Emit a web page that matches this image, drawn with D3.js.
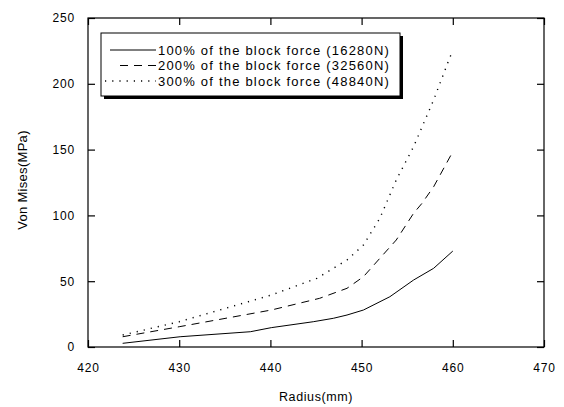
<!DOCTYPE html>
<html>
<head>
<meta charset="utf-8">
<script src="https://cdn.jsdelivr.net/npm/d3@7"></script>
<style>
  html, body { margin: 0; padding: 0; background: #fff; }
  svg text { font-family: "Liberation Sans", Arial, sans-serif; fill: #000; }
</style>
</head>
<body>
<svg id="chart" width="564" height="407"></svg>
<script>
// Radius (mm) sample positions for each load case
const radius100 = [423.8, 430.1, 437.8, 440.1, 444.7, 446.9, 448.4, 450.2, 453.1, 455.7, 457.9, 460.0];
const stress100 = [2.8, 7.8, 11.6, 14.7, 19.2, 21.8, 24.3, 28.1, 38.2, 50.9, 59.8, 72.9];

const radius200 = [423.8, 430.0, 440.1, 445.4, 448.4, 450.2, 452.0, 453.8, 455.7, 456.6, 457.9, 460.0];
const stress200 = [7.8, 15.4, 28.1, 37.0, 44.6, 53.4, 67.4, 81.3, 101.6, 109.0, 121.8, 148.4];

const radius300 = [423.8, 430.0, 440.1, 445.1, 448.4, 450.2, 452.0, 453.8, 455.7, 457.9, 459.7, 460.0];
const stress300 = [9.1, 19.2, 39.5, 52.2, 66.1, 77.5, 97.8, 126.9, 152.2, 187.7, 220.5, 224.5];

const seriesNames = [
  "100% of the block force (16280N)",
  "200% of the block force (32560N)",
  "300% of the block force (48840N)"
];
const dashStyles = ["none", "8,6", "1.2,6"];

const xTicks = [420, 430, 440, 450, 460, 470];
const yTicks = [0, 50, 100, 150, 200, 250];

const svg = d3.select("#chart");
const plot = { left: 88, right: 544, top: 18, bottom: 347 };

const x = d3.scaleLinear().domain([420, 470]).range([plot.left, plot.right]);
const y = d3.scaleLinear().domain([0, 250]).range([plot.bottom, plot.top]);

// Frame
svg.append("rect")
  .attr("x", plot.left).attr("y", plot.top)
  .attr("width", plot.right - plot.left).attr("height", plot.bottom - plot.top)
  .attr("fill", "none").attr("stroke", "#000").attr("stroke-width", 1.2);

// Axes with inward ticks on all four sides
const tickLen = 7;
const bottomAxis = d3.axisBottom(x).tickValues(xTicks).tickSizeInner(-tickLen).tickSizeOuter(0).tickPadding(tickLen + 9);
const leftAxis = d3.axisLeft(y).tickValues(yTicks).tickSizeInner(-tickLen).tickSizeOuter(0).tickPadding(tickLen + 6);
const topAxis = d3.axisTop(x).tickValues(xTicks).tickSizeInner(-tickLen).tickSizeOuter(0).tickFormat("");
const rightAxis = d3.axisRight(y).tickValues(yTicks).tickSizeInner(-tickLen).tickSizeOuter(0).tickFormat("");

function styleAxis(g) {
  g.select(".domain").remove();
  g.selectAll(".tick line").attr("stroke", "#000").attr("stroke-width", 1.2);
  g.selectAll(".tick text").attr("font-size", 12).attr("font-family", "Liberation Sans, Arial, sans-serif").attr("letter-spacing", 0.8);
}

svg.append("g").attr("transform", `translate(0,${plot.bottom})`).call(bottomAxis).call(styleAxis);
svg.append("g").attr("transform", `translate(${plot.left},0)`).call(leftAxis).call(styleAxis);
svg.append("g").attr("transform", `translate(0,${plot.top})`).call(topAxis).call(styleAxis);
svg.append("g").attr("transform", `translate(${plot.right},0)`).call(rightAxis).call(styleAxis);

// Axis titles
svg.append("text")
  .attr("x", 316).attr("y", 401)
  .attr("text-anchor", "middle").attr("font-size", 12.5).attr("letter-spacing", 0.6)
  .text("Radius(mm)");
svg.append("text")
  .attr("transform", "translate(27,180) rotate(-90)")
  .attr("text-anchor", "middle").attr("font-size", 13).attr("letter-spacing", 0.3)
  .text("Von Mises(MPa)");

// Curves
const line = d3.line().x(d => x(d[0])).y(d => y(d[1]));
const series = [
  d3.zip(radius100, stress100),
  d3.zip(radius200, stress200),
  d3.zip(radius300, stress300)
];
series.forEach((pts, i) => {
  svg.append("path")
    .datum(pts)
    .attr("d", line)
    .attr("fill", "none")
    .attr("stroke", "#000")
    .attr("stroke-width", i === 2 ? 1.4 : 1)
    .attr("stroke-dasharray", dashStyles[i]);
});

// Legend with drop shadow
const lg = { x: 101, y: 33, w: 299, h: 63 };
svg.append("rect")
  .attr("x", lg.x + 3).attr("y", lg.y + 3).attr("width", lg.w).attr("height", lg.h)
  .attr("fill", "#000");
svg.append("rect")
  .attr("x", lg.x).attr("y", lg.y).attr("width", lg.w).attr("height", lg.h)
  .attr("fill", "#fff").attr("stroke", "#000").attr("stroke-width", 1);

const sampleStarts = [110, 120, 105];
seriesNames.forEach((name, i) => {
  const cy = 50 + i * 15.5;
  svg.append("line")
    .attr("x1", sampleStarts[i]).attr("x2", 156)
    .attr("y1", cy).attr("y2", cy)
    .attr("stroke", "#000")
    .attr("stroke-width", i === 2 ? 1.4 : 1)
    .attr("stroke-dasharray", dashStyles[i]);
  svg.append("text")
    .attr("x", 158).attr("y", cy + 4.5)
    .attr("font-size", 13).attr("letter-spacing", 1.2)
    .text(name);
});
</script>
</body>
</html>
